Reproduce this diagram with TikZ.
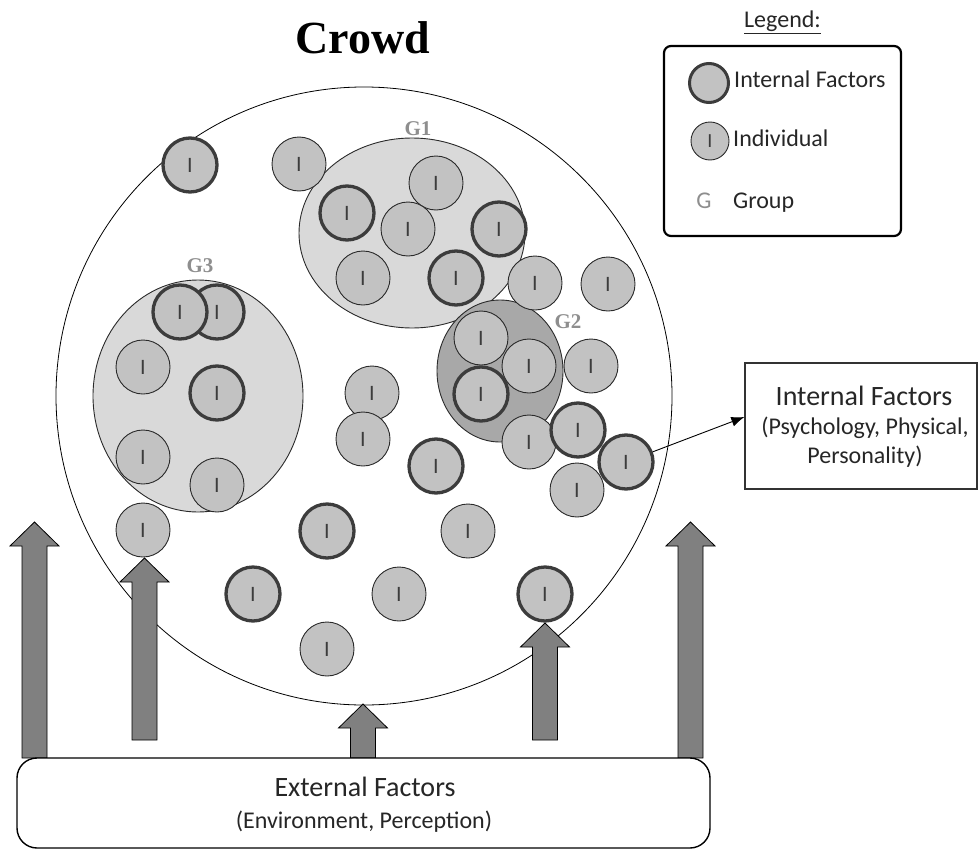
\documentclass[tikz,border=0pt]{standalone}
\usepackage{fontspec}
\setmainfont{Carlito}
\newfontfamily\crowdserif{Liberation Serif}
\usetikzlibrary{arrows.meta,shapes.geometric}
\definecolor{indfill}{HTML}{C2C2C2}
\definecolor{grpfill}{HTML}{D9D9D9}
\definecolor{grptwofill}{HTML}{A8A8A8}
\definecolor{thickline}{HTML}{3C3C3C}
\definecolor{thinline}{HTML}{2A2A2A}
\definecolor{arrowfill}{HTML}{808080}
\definecolor{glabelgray}{HTML}{8E8E8E}
\definecolor{textgray}{HTML}{262626}
\newcommand{\blockarrowat}[3]{%
  \draw[blockarrow] ({#1-12.5},#3) -- ({#1-12.5},{#2+24}) -- ({#1-24.5},{#2+24}) -- (#1,#2)
    -- ({#1+24.5},{#2+24}) -- ({#1+12.5},{#2+24}) -- ({#1+12.5},#3) -- cycle;}
\begin{document}
\begin{tikzpicture}[x=1pt,y=-1pt,
  indiv/.style={circle, draw=thinline, line width=0.9pt, fill=indfill, minimum size=54pt,
    inner sep=0pt, text=thickline, font=\fontsize{22}{22}\selectfont},
  infac/.style={indiv, draw=thickline, line width=3.3pt},
  grp/.style={ellipse, draw=thinline, line width=0.9pt, fill=grpfill, inner sep=0pt},
  grptwo/.style={grp, fill=grptwofill},
  glab/.style={font=\crowdserif\bfseries\fontsize{21}{21}\selectfont, text=glabelgray, inner sep=0pt, anchor=base},
  bigtext/.style={font=\fontsize{28}{28}\selectfont, text=textgray, inner sep=0pt, anchor=base},
  smalltext/.style={font=\fontsize{24}{24}\selectfont, text=textgray, inner sep=0pt, anchor=base},
  legtext/.style={font=\fontsize{24}{24}\selectfont, text=textgray, inner sep=0pt, anchor=base west},
  blockarrow/.style={fill=arrowfill, draw=black, line width=0.8pt, line join=miter},
  conn/.style={draw=black, line width=0.9pt, -{Latex[length=13pt,width=10pt]}},
]
\useasboundingbox (0,0) rectangle (979,851);

% title
\node[font=\crowdserif\bfseries\fontsize{46}{46}\selectfont, inner sep=0pt, anchor=base] (title) at (362.5,53) {Crowd};

% crowd
\node[ellipse, draw=black, line width=0.8pt, inner sep=0pt, minimum width=616pt, minimum height=618pt] (crowd) at (364,396) {};

% groups
\node[grp, minimum width=226pt, minimum height=190pt] (g1) at (412,233) {};
\node[grptwo, minimum width=126pt, minimum height=142pt] (g2) at (500,371) {};
\node[grp, minimum width=210pt, minimum height=232pt] (g3) at (198,396) {};
\node[glab] (g1lab) at (418,135) {G1};
\node[glab] (g2lab) at (568,328) {G2};
\node[glab] (g3lab) at (200,272) {G3};

% individuals
\node[infac] (c1) at (190,165) {I};
\node[indiv] (c2) at (299,164) {I};
\node[indiv] (c3) at (436,183) {I};
\node[infac] (c4) at (347,213) {I};
\node[indiv] (c5) at (408,229) {I};
\node[infac] (c6) at (499,229) {I};
\node[indiv] (c7) at (363,278) {I};
\node[infac] (c8) at (456,278) {I};
\node[indiv] (c9) at (535,283) {I};
\node[indiv] (c10) at (608,284) {I};
\node[indiv] (c11) at (481,338) {I};
\node[indiv] (c12) at (529,366) {I};
\node[infac] (c13) at (481,394) {I};
\node[indiv] (c14) at (591,366) {I};
\node[indiv] (c15) at (529,442) {I};
\node[infac] (c16) at (578,430) {I};
\node[indiv] (c18) at (577,490) {I};
\node[infac] (c17) at (626,462) {I};
\node[infac] (c19) at (436,466) {I};
\node[infac] (c20) at (217,312) {I};
\node[infac] (c21) at (180,312) {I};
\node[indiv] (c22) at (143,367) {I};
\node[infac] (c23) at (217,393) {I};
\node[indiv] (c24) at (143,457) {I};
\node[indiv] (c25) at (217,485) {I};
\node[indiv] (c26) at (143,530) {I};
\node[indiv] (c27) at (372,393) {I};
\node[indiv] (c28) at (363,439) {I};
\node[infac] (c29) at (327,531) {I};
\node[indiv] (c30) at (468,531) {I};
\node[infac] (c31) at (253,594) {I};
\node[indiv] (c32) at (399,594) {I};
\node[indiv] (c33) at (327,649) {I};
\node[infac] (c34) at (545,594) {I};

% block arrows (external factors)
\blockarrowat{34.5}{522}{758}
\blockarrowat{144.5}{558}{740}
\blockarrowat{363}{704}{758}
\blockarrowat{545}{623}{740}
\blockarrowat{690.5}{522}{758}

% external factors box
\node[draw=black, line width=1.4pt, rounded corners=20pt, fill=white, minimum width=693pt, minimum height=90pt, inner sep=0pt] (extbox) at (363.5,803) {};
\node[bigtext] (ext1) at (365,796) {External Factors};
\node[smalltext] (ext2) at (364,828) {(Environment, Perception)};

% internal factors box
\node[draw=black!80, line width=1.3pt, minimum width=232pt, minimum height=126pt, inner sep=0pt] (intbox) at (861,426) {};
\node[bigtext] (int1) at (864,405) {Internal Factors};
\node[smalltext] (int2) at (865,434) {(Psychology, Physical,};
\node[smalltext] (int3) at (865,463) {Personality)};
\draw[conn] (c17) -- ([yshift=9pt]intbox.west);

% legend
\node[font=\fontsize{24}{24}\selectfont, text=textgray, inner sep=0pt, anchor=base] (legtitle) at (782.5,28) {\underline{Legend:}};
\node[draw=black, line width=2.2pt, rounded corners=7pt, minimum width=237pt, minimum height=190pt, inner sep=0pt] (legend) at (782.5,141) {};
\node[infac, minimum size=39pt, line width=3pt] (lgint) at (709,83) {};
\node[legtext] (lginttext) at (734,88) {Internal Factors};
\node[indiv, minimum size=38pt, font=\fontsize{20}{20}\selectfont] (lgind) at (710,141) {I};
\node[legtext] (lgindtext) at (733,146) {Individual};
\node[font=\fontsize{24}{24}\selectfont, text=glabelgray, inner sep=0pt, anchor=base] (lgG) at (704,208) {G};
\node[legtext] (lggrptext) at (733,208) {Group};
\end{tikzpicture}
\end{document}
